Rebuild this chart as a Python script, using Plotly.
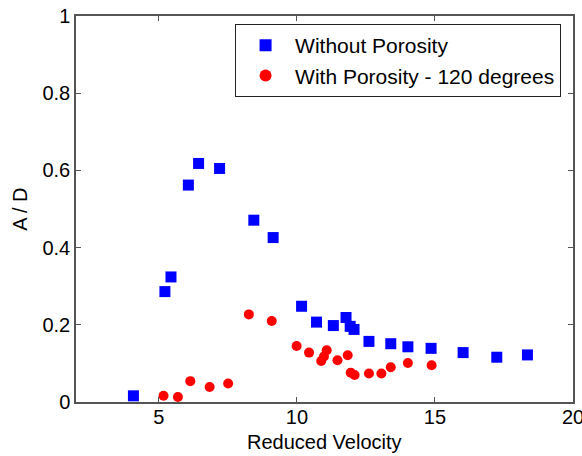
import plotly.graph_objects as go

# Without Porosity (blue squares)
vel_without = [4.08, 5.22, 5.44, 6.07, 6.44, 7.20, 8.44, 9.14, 10.17, 10.71, 11.32, 11.78,
               11.93, 12.07, 12.61, 13.40, 14.02, 14.86, 16.02, 17.24, 18.35]
ad_without = [0.016, 0.286, 0.324, 0.562, 0.618, 0.605, 0.471, 0.426, 0.248, 0.207, 0.198, 0.219,
              0.196, 0.188, 0.157, 0.151, 0.143, 0.139, 0.128, 0.116, 0.122]

# With Porosity - 120 degrees (red circles)
vel_with = [5.17, 5.69, 6.14, 6.84, 7.51, 8.26, 9.09, 9.99, 10.44, 10.88, 10.98, 11.08,
            11.47, 11.84, 11.95, 12.09, 12.61, 13.06, 13.40, 14.02, 14.88]
ad_with = [0.016, 0.013, 0.054, 0.039, 0.048, 0.227, 0.210, 0.145, 0.128, 0.106, 0.118, 0.134,
           0.108, 0.121, 0.076, 0.070, 0.074, 0.074, 0.090, 0.101, 0.095]

x_ticks = [5, 10, 15, 20]
y_ticks = [0, 0.2, 0.4, 0.6, 0.8, 1]
y_tick_labels = ["0", "0.2", "0.4", "0.6", "0.8", "1"]

FONT = "Liberation Sans, Arial, sans-serif"
FS = 20

fig = go.Figure()
fig.add_trace(go.Scatter(
    x=vel_without, y=ad_without, mode="markers", name="Without Porosity",
    marker=dict(symbol="square", size=11, color="#0000ff", line=dict(width=0)),
))
fig.add_trace(go.Scatter(
    x=vel_with, y=ad_with, mode="markers", name="With Porosity - 120 degrees",
    marker=dict(symbol="circle", size=10, color="#ff0000", line=dict(width=0)),
))

axis_common = dict(
    showgrid=False, zeroline=False, showline=True, linecolor="#555555", linewidth=1.5,
    mirror="ticks", ticks="inside", ticklen=5, tickcolor="#555555", tickwidth=1,
    tickfont=dict(family=FONT, size=FS, color="black"),
    automargin=False, ticklabeloverflow="allow",
)

fig.update_layout(
    width=582, height=456,
    margin=dict(l=76, r=9, t=16, b=54),
    paper_bgcolor="white", plot_bgcolor="white",
    font=dict(family=FONT, size=FS, color="black"),
    xaxis=dict(range=[2, 20], tickvals=x_ticks, ticklabelstandoff=-4, **axis_common),
    yaxis=dict(range=[0, 1], tickvals=y_ticks, ticktext=y_tick_labels, **axis_common),
    legend=dict(
        x=0.976, y=0.979, xanchor="right", yanchor="top",
        bgcolor="white", bordercolor="#222222", borderwidth=1,
        font=dict(family=FONT, size=21, color="black"),
        itemsizing="constant", tracegroupgap=0, itemwidth=49,
    ),
    showlegend=True,
    annotations=[
        dict(text="Reduced Velocity", xref="paper", yref="paper", x=0.5, y=-0.104,
             xanchor="center", yanchor="middle", showarrow=False,
             font=dict(family=FONT, size=FS, color="black")),
        dict(text="A / D", xref="paper", yref="paper", x=-0.113, y=0.5, textangle=-90,
             xanchor="center", yanchor="middle", showarrow=False,
             font=dict(family=FONT, size=FS, color="black")),
    ],
)

fig.write_html("out.html", config={"displayModeBar": False},
               post_script="document.body.style.margin='0';")
